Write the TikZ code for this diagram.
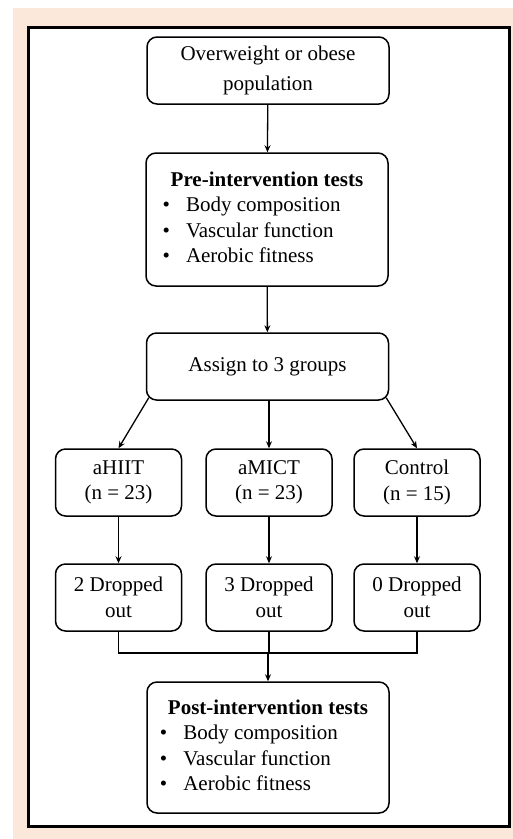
\documentclass[tikz,border=0pt]{standalone}
\usepackage{fontspec}
\setmainfont{Liberation Serif}
\usetikzlibrary{arrows.meta,calc}

\begin{document}
\begin{tikzpicture}[x=1pt, y=-1pt]
	% Colores
	\definecolor{marco}{RGB}{252, 232, 218} % fondo beige del recuadro
	
	% Estilos
	\tikzset{
		caja/.style={draw, rounded corners=10pt, line width=1.5pt, align=center,
			font=\fontsize{21}{25.5}\selectfont, inner sep=2pt},
		ancha/.style={caja, minimum width=242pt},
		grupo/.style={caja, minimum width=126pt, minimum height=67pt},
		flecha/.style={line width=1.3pt, -{Stealth[length=7pt, width=6pt]}},
		linea/.style={line width=1.3pt}
	}
	\newcommand{\lista}[1]{%
		\begin{tabular}{@{\hspace{-8pt}}l@{\hspace{16pt}}l@{}}
			\multicolumn{2}{@{}c@{}}{\textbf{#1}}\\
			\textbullet & Body composition\\
			\textbullet & Vascular function\\
			\textbullet & Aerobic fitness
		\end{tabular}}
	
	% --- Marco ---
	\useasboundingbox (0,0) rectangle (513,839);
	\fill[marco] (13,8) rectangle (513,839);
	\draw[line width=3pt, fill=white] (28,27) rectangle (509,826);
	
	% --- Cajas ---
	\node[ancha, minimum height=67pt] (pop) at (268,70.5) {Overweight or obese\\[4pt]population};
	\node[ancha, minimum height=133pt] (pre) at (267,219.5) {\lista{Pre-intervention tests}};
	\node[ancha, minimum height=67pt] (assign) at (267.5,366.5) {Assign to 3 groups};
	
	\node[grupo] (hiit) at (118.5,482.5) {aHIIT\\(n = 23)};
	\node[grupo] (mict) at (269,482.5) {aMICT\\(n = 23)};
	\node[grupo] (ctrl) at (417,482.5) {Control\\(n = 15)};
	
	\node[grupo] (dhiit) at (118.5,597.5) {2 Dropped\\out};
	\node[grupo] (dmict) at (269,597.5) {3 Dropped\\out};
	\node[grupo] (dctrl) at (417,597.5) {0 Dropped\\out};
	
	\node[ancha, minimum height=131pt] (post) at (268,747.5) {\lista{Post-intervention tests}};
	
	% --- Conectores ---
	\coordinate (union) at (268,653);
	\draw[flecha] (pop) -- (pre);
	\draw[flecha] (pre) -- (assign);
	\draw[flecha] ([shift={(3,-3)}]assign.south west) -- (hiit.north);
	\draw[flecha] (assign.south -| mict) -- (mict.north);
	\draw[flecha] ([shift={(-3,-3)}]assign.south east) -- (ctrl.north);
	\draw[flecha] (hiit) -- (dhiit);
	\draw[flecha] (mict) -- (dmict);
	\draw[flecha] (ctrl) -- (dctrl);
	\draw[linea] (dhiit.south) |- (union) -| (dctrl.south);
	\draw[linea] (dmict.south) -- (dmict.south |- union);
	\draw[flecha] (union) -- (post.north);
	
\end{tikzpicture}
\end{document}
